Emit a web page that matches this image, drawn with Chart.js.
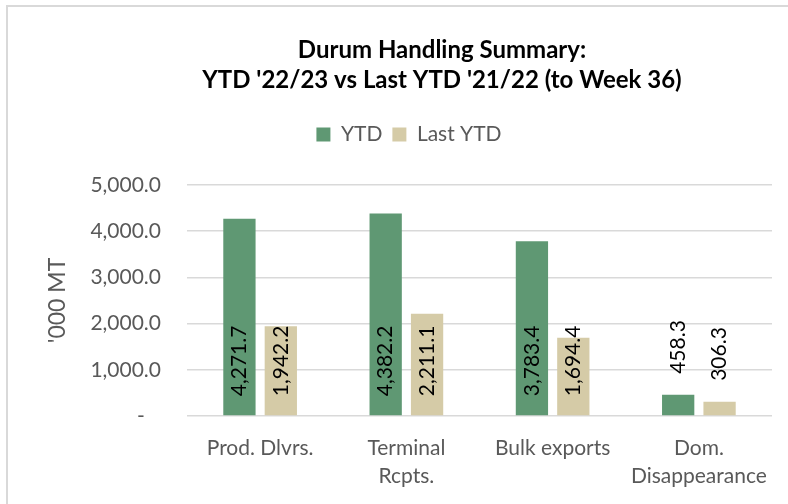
<!DOCTYPE html>
<html>
<head>
<meta charset="utf-8">
<script src="https://cdn.jsdelivr.net/npm/chart.js@4.4.1/dist/chart.umd.min.js"></script>
<style>
  body{margin:0;background:#fff;}
  #wrap{position:relative;width:788px;height:504px;overflow:hidden;}
  #frame{position:absolute;left:6px;top:5px;width:900px;height:600px;border-top:2px solid #d9d9d9;border-left:2px solid #d9d9d9;pointer-events:none;}
</style>
</head>
<body>
<div id="wrap">
  <canvas id="myChart" width="788" height="504"></canvas>
  <div id="frame"></div>
</div>
<script>
// data
const categories=[['Prod. Dlvrs.'],['Terminal','Rcpts.'],['Bulk exports'],['Dom.','Disappearance']];
const ytd=[4271.7,4382.2,3783.4,458.3];
const lastYtd=[1942.2,2211.1,1694.4,306.3];
const yTickLabels=['-','1,000.0','2,000.0','3,000.0','4,000.0','5,000.0'];
const titleLines=['Durum Handling Summary:',"YTD '22/23 vs Last YTD '21/22 (to Week 36)"];

const FONT='Lato';

// title drawn at its own spot (centred over plot, not canvas)
let titlePlugin={
    id:'topTitle',
    afterDraw(chart){
        const ctx=chart.ctx;
        ctx.save();
        ctx.font='bold 24px '+FONT;
        ctx.fillStyle='#000';
        ctx.textAlign='center';
        ctx.textBaseline='middle';
        ctx.fillText(titleLines[0],442,50);
        ctx.fillText(titleLines[1],442,80);
        ctx.restore();
    }
};

// value labels, rotated, inside base unless the bar is too short
let barLabels={
    id:'barLabels',
    afterDatasetsDraw(chart){
        const ctx=chart.ctx;
        ctx.save();
        ctx.font='21px '+FONT;
        ctx.fillStyle='#000';
        ctx.textBaseline='middle';
        ctx.textAlign='left';
        chart.data.datasets.forEach((ds,i)=>{
            const meta=chart.getDatasetMeta(i);
            meta.data.forEach((bar,j)=>{
                const txt=ds.data[j].toLocaleString('en-US',{minimumFractionDigits:1,maximumFractionDigits:1});
                const h=bar.base-bar.y;
                let start=h>40 ? bar.base-19 : bar.y-21;
                ctx.save();
                ctx.translate(bar.x,start);
                ctx.rotate(-Math.PI/2);
                ctx.fillText(txt,0,0);
                ctx.restore();
            });
        });
        ctx.restore();
    }
};

// push plot area down below the legend
let legendSpace={
    id:'legendSpace',
    beforeInit(chart){
        const origFit=chart.legend.fit;
        chart.legend.fit=function(){
            origFit.bind(chart.legend)();
            this.height=71;
        };
    }
};

const ctx=document.getElementById('myChart').getContext('2d');
const myChart=new Chart(ctx,{
    type:'bar',
    data:{
        labels:categories,
        datasets:[{
            label:'YTD',
            data:ytd,
            backgroundColor:'#5f9873',
            categoryPercentage:0.566,
            barPercentage:0.78
        },{
            label:'Last YTD',
            data:lastYtd,
            backgroundColor:'#d5cba7',
            categoryPercentage:0.566,
            barPercentage:0.78
        }]
    },
    options:{
        responsive:false,
        animation:false,
        devicePixelRatio:1,
        layout:{padding:{top:114,left:46,right:16,bottom:15}},
        plugins:{
            title:{display:false},
            tooltip:{enabled:false},
            legend:{
                position:'top',
                labels:{
                    boxWidth:14,
                    boxHeight:14,
                    padding:10,
                    color:'#595959',
                    font:{family:FONT,size:21}
                }
            }
        },
        scales:{
            x:{
                afterFit(scale){scale.height=73;},
                grid:{display:false},
                border:{display:false},
                ticks:{
                    color:'#595959',
                    padding:10,
                    maxRotation:0,
                    autoSkip:false,
                    font:{family:FONT,size:21,lineHeight:1.33}
                }
            },
            y:{
                min:0,
                max:5000,
                afterFit(scale){scale.width=141;},
                border:{display:false},
                grid:{color:'#d9d9d9',lineWidth:1.5,drawTicks:false},
                ticks:{
                    stepSize:1000,
                    padding:26,
                    color:'#595959',
                    font:{family:FONT,size:21},
                    callback:(v,i)=>i==0 ? yTickLabels[0]+'   ' : yTickLabels[i]
                },
                title:{
                    display:true,
                    text:"'000 MT",
                    color:'#595959',
                    padding:{top:0,bottom:0},
                    font:{family:FONT,size:23,lineHeight:1}
                }
            }
        }
    },
    plugins:[titlePlugin,barLabels,legendSpace]
});
</script>
</body>
</html>
